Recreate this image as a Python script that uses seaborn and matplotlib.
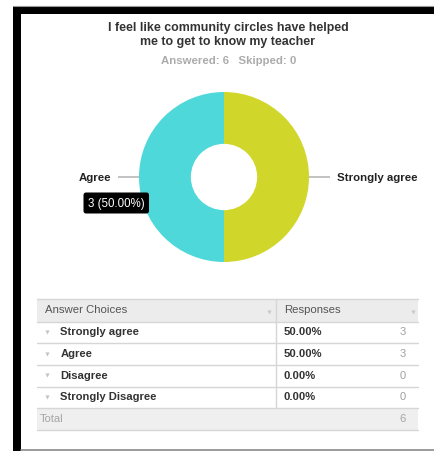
import numpy as np
import matplotlib
matplotlib.use("Agg")
import matplotlib.pyplot as plt
from matplotlib.patches import Rectangle, FancyBboxPatch
import seaborn as sns

# Survey question and responses
question = ["I feel like community circles have helped", "me to get to know my teacher"]
choices = ["Strongly agree", "Agree", "Disagree", "Strongly Disagree"]
counts = [3, 3, 0, 0]
skipped = 0
slice_colors = ["#d1d62b", "#4fd8da", "#f0883a", "#9b9b9b"]

sns.set_theme(style="white")
plt.rcParams["font.family"] = ["Liberation Sans", "DejaVu Sans"]

W, H = 434, 451
fig = plt.figure(figsize=(W / 100, H / 100), dpi=100)

answered = int(sum(counts))
shares = [c / answered * 100 for c in counts]

# Donut chart
cx, cy, r = 224, 177, 85
pax = fig.add_axes([(cx - r) / W, 1 - (cy + r) / H, 2 * r / W, 2 * r / H])
palette = sns.color_palette(slice_colors)
wedges, _ = pax.pie(counts, colors=palette, startangle=90, counterclock=False,
                    radius=1, wedgeprops=dict(width=0.61, linewidth=0))
pax.set_xlim(-1, 1)
pax.set_ylim(-1, 1)
pax.set_aspect("auto")
pax.axis("off")

# Leader lines and labels for non-empty slices
for w, name, c in zip(wedges, choices, counts):
    if c == 0:
        continue
    mid = np.deg2rad((w.theta1 + w.theta2) / 2)
    ux, uy = np.cos(mid), np.sin(mid)
    pax.plot([ux * 1.0, ux * 1.25], [uy * 1.0, uy * 1.25], color="#bdbdbd",
             lw=1.3, clip_on=False, solid_capstyle="butt")
    pax.text(ux * 1.33, uy * 1.33 - 0.01, name, ha="left" if ux > 0 else "right",
             va="center", fontsize=8.2, fontweight="bold", color="#222222",
             clip_on=False)

# Overlay in pixel coordinates for frame, titles and table
ax = fig.add_axes([0, 0, 1, 1])
ax.set_xlim(0, W)
ax.set_ylim(H, 0)
ax.axis("off")
ax.patch.set_alpha(0)

# Frame
ax.plot([13, W], [5.5, 5.5], color="#9a9a9a", lw=0.8)
ax.add_patch(Rectangle((13, 6), W - 13, 8, color="black", lw=0))
ax.add_patch(Rectangle((13, 6), 8, H - 6, color="black", lw=0))
ax.plot([21, W], [449.5, 449.5], color="#8a8a8a", lw=1.2)

# Titles
ax.text(228, 28, question[0], ha="center", va="center", fontsize=8.9,
        fontweight="bold", color="#333333")
ax.text(228, 42, question[1], ha="center", va="center", fontsize=8.9,
        fontweight="bold", color="#333333")
ax.text(228.5, 61, f"Answered: {answered}   Skipped: {skipped}", ha="center",
        va="center", fontsize=8.2, fontweight="bold", color="#ababab")

# Tooltip on the Agree slice
agree = choices.index("Agree")
ax.add_patch(FancyBboxPatch((83.5, 192.5), 65.5, 21,
                            boxstyle="round,pad=0,rounding_size=2.5",
                            fc="black", ec="none"))
ax.text(87.5, 203.5, f"{counts[agree]} ({shares[agree]:.2f}%)", ha="left",
        va="center", fontsize=8.3, color="white")

# Response table
x0, x1, xm = 37, 418, 276
ys = [299, 321.5, 343.2, 365, 386.7, 408, 429.5]
line_c = "#d6d6d6"
ax.add_patch(Rectangle((x0, ys[0]), x1 - x0, ys[1] - ys[0], fc="#ececec", ec="none"))
ax.add_patch(Rectangle((x0, ys[5]), x1 - x0, ys[6] - ys[5], fc="#efefef", ec="none"))
for y in ys:
    ax.plot([x0, x1], [y, y], color=line_c, lw=1.0)
ax.plot([xm, xm], [ys[0], ys[5]], color=line_c, lw=1.0)

hy = (ys[0] + ys[1]) / 2
ax.text(45, hy, "Answer Choices", ha="left", va="center",
        fontsize=8.2, color="#555555")
ax.text(284, hy, "Responses", ha="left", va="center",
        fontsize=8.2, color="#555555")
ax.plot([268.5, 412.5], [hy + 2, hy + 2], ls="none", marker="v", ms=3,
        mec="none", color="#c8c8c8")

for i, (name, c, p) in enumerate(zip(choices, counts, shares)):
    yc = (ys[i + 1] + ys[i + 2]) / 2
    ax.plot([47], [yc - 0.5], marker="v", ms=3, mec="none", color="#c4c4c4")
    ax.text(60.5, yc, name, ha="left", va="center", fontsize=8.1,
            fontweight="bold", color="#333333")
    ax.text(284, yc, f"{p:.2f}%", ha="left", va="center", fontsize=8.1,
            fontweight="bold", color="#333333")
    ax.text(406, yc, f"{c}", ha="right", va="center", fontsize=8,
            color="#a0a0a0")

ax.text(40, (ys[5] + ys[6]) / 2, "Total", ha="left", va="center",
        fontsize=8, color="#a5a5a5")
ax.text(406, (ys[5] + ys[6]) / 2, f"{answered}", ha="right", va="center",
        fontsize=8, color="#a5a5a5")

fig.savefig("out.png", dpi=100, facecolor="white")
